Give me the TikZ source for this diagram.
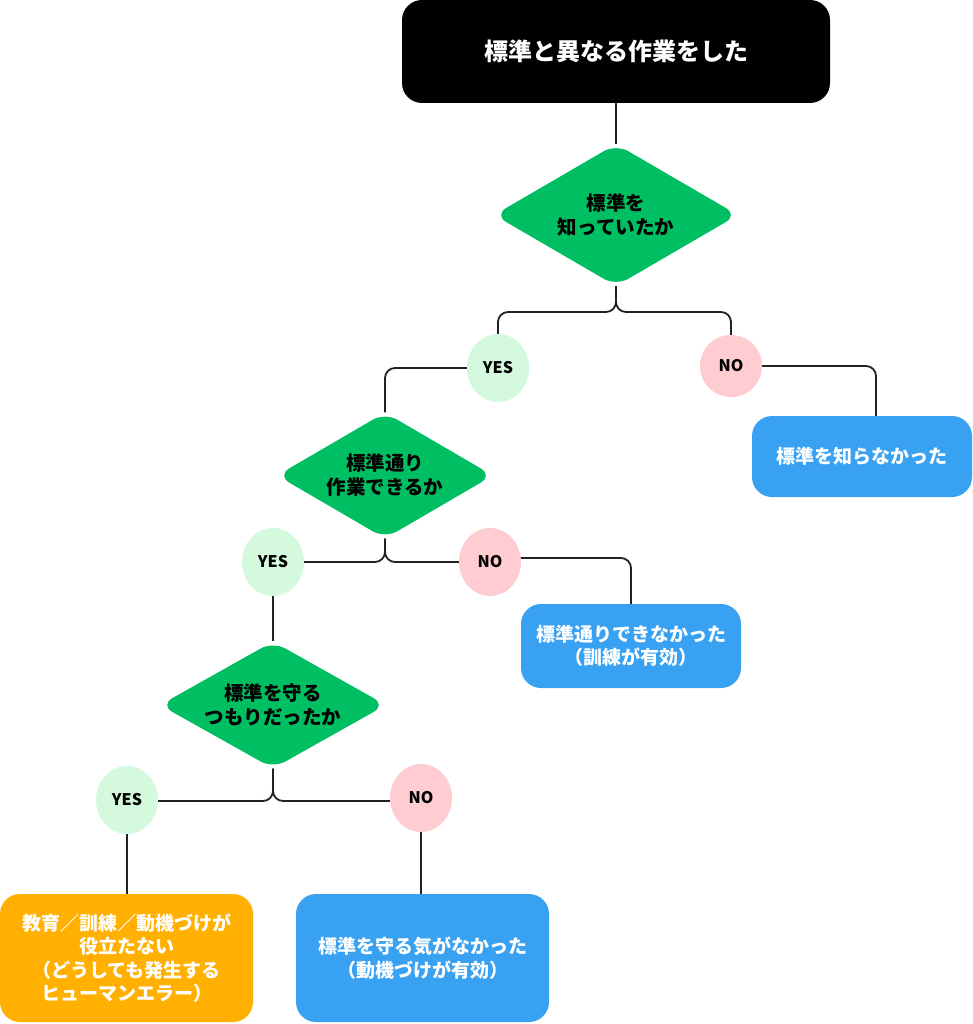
\documentclass[tikz,border=0pt]{standalone}
\usepackage{fontspec}
\setmainfont{Noto Sans CJK JP}
\usetikzlibrary{shapes.geometric}
\pgfdeclarelayer{background}
\pgfsetlayers{background,main}
\definecolor{dgreen}{HTML}{00BF63}
\definecolor{lgreen}{HTML}{D5F9DD}
\definecolor{lpink}{HTML}{FFCCD2}
\definecolor{bblue}{HTML}{38A1F1}
\definecolor{borange}{HTML}{FFB000}
\definecolor{lin}{HTML}{222222}
\begin{document}
\begin{tikzpicture}[x=1pt,y=-1pt,
  box/.style={rectangle,rounded corners=20pt,inner sep=0pt,align=center,text=white,font=\fontsize{19}{23.5}\selectfont\bfseries},
  dec/.style={diamond,aspect=1.75,fill=dgreen,rounded corners=14pt,inner sep=0pt,align=center,text=black,font=\fontsize{19.5}{24}\selectfont\bfseries},
  ans/.style={ellipse,inner sep=0pt,minimum width=62pt,minimum height=68pt,font=\fontsize{16}{18}\selectfont\bfseries},
  yesn/.style={ans,fill=lgreen},
  non/.style={ans,fill=lpink},
  conn/.style={draw=lin,line width=1.8pt,rounded corners=10pt}]
\useasboundingbox (0,0) rectangle (973,1024);
\node[box,fill=black,minimum width=428pt,minimum height=103pt,font=\fontsize{24}{28}\selectfont\bfseries] (top) at (616,51.5) {標準と異なる作業をした};
\node[dec,minimum width=244pt,minimum height=142pt] (d1) at (616,215) {標準を\\知っていたか};
\node[yesn] (yes1) at (498,368) {YES};
\node[non,minimum width=62pt,minimum height=62pt] (no1) at (731,366) {NO};
\node[box,fill=bblue,minimum width=220pt,minimum height=81pt] (k1) at (862,456.5) {標準を知らなかった};
\node[dec,minimum width=216pt,minimum height=126pt] (d2) at (385,475.5) {標準通り\\作業できるか};
\node[yesn] (yes2) at (273,562) {YES};
\node[non] (no2) at (490,562) {NO};
\node[box,fill=bblue,minimum width=220pt,minimum height=84pt] (k2) at (631,646) {標準通りできなかった\\（訓練が有効）};
\node[dec,minimum width=226pt,minimum height=127pt] (d3) at (273,705) {標準を守る\\つもりだったか};
\node[yesn] (yes3) at (127,800) {YES};
\node[non] (no3) at (421,798) {NO};
\node[box,fill=borange,minimum width=253pt,minimum height=128pt] (k3) at (126.5,958) {教育／訓練／動機づけが\\役立たない\\（どうしても発生する\\ヒューマンエラー）};
\node[box,fill=bblue,minimum width=253pt,minimum height=128pt] (k4) at (422.5,958) {標準を守る気がなかった\\（動機づけが有効）};
\coordinate (f1) at (0,312);
\begin{pgfonlayer}{background}
\fill[white] (0,0) rectangle (973,1024);
\draw[conn] (top) -- (d1);
\draw[conn] (d1) |- (f1 -| yes1) -- (yes1);
\draw[conn] (d1) |- (f1 -| no1) -- (no1);
\draw[conn] (yes1) -| (d2);
\draw[conn] (no1) -| ([xshift=14pt]k1.center);
\draw[conn] (d2) |- (yes2);
\draw[conn] (d2) |- (no2);
\draw[conn] ([yshift=4pt]no2.center) -| (k2);
\draw[conn] (yes2) -- (d3);
\draw[conn] (d3) |- ([yshift=-1pt]yes3.center);
\draw[conn] (d3) |- ([yshift=-3pt]no3.center);
\draw[conn] (yes3) -- (yes3 |- k3);
\draw[conn] (no3) -- (no3 |- k4);
\end{pgfonlayer}
\end{tikzpicture}
\end{document}
